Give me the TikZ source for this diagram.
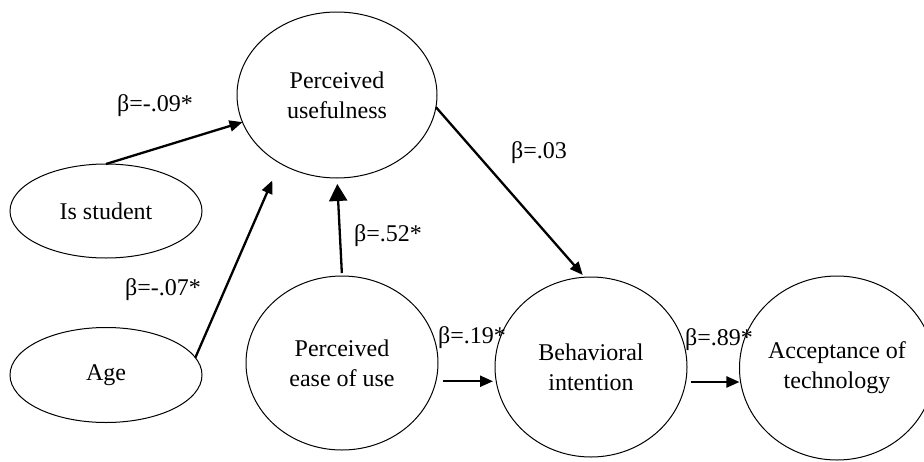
\documentclass[tikz,border=0pt]{standalone}
\usepackage{fontspec}
\setmainfont{Liberation Serif}
\usetikzlibrary{shapes.geometric,arrows.meta}
\begin{document}
\begin{tikzpicture}[x=1pt,y=-1pt,
  every node/.style={font=\fontsize{24}{30}\selectfont},
  var/.style={draw,ellipse,line width=1pt,inner sep=0pt,outer sep=0pt,align=center},
  arr/.style={line width=2.3pt,-{Triangle[length=13pt,width=11pt]}},
  bigarr/.style={line width=2.3pt,-{Triangle[length=17pt,width=18pt]}},
  lab/.style={inner sep=0pt}]
\clip (0,0) rectangle (924,461);
\useasboundingbox (0,0) rectangle (924,461);
\node[var,minimum width=200pt,minimum height=166pt] (pu) at (337,95) {Perceived\\usefulness};
\node[var,minimum width=192pt,minimum height=94pt] (stu) at (106,211) {Is student};
\node[var,minimum width=192pt,minimum height=95pt] (age) at (106,375) {Age};
\node[var,minimum width=192pt,minimum height=174pt] (peou) at (342,363) {Perceived\\ease of use};
\node[var,minimum width=192pt,minimum height=180pt] (bi) at (591,367) {Behavioral\\intention};
\node[var,minimum width=184pt,minimum height=184pt] (at) at (837,368) {Acceptance of\\technology};
% connectors
\draw[arr] (stu.90) -- (pu.196);
\draw[arr,shorten >=19pt] (age.11) -- (pu.230);
\draw[bigarr,shorten <=3pt,shorten >=6pt] (peou.north) -- (pu.south);
\draw[arr,shorten >=3pt] (pu.353) -- (bi.94);
\draw[arr,shorten <=7pt,shorten >=2pt] (peou.-11.5) -- (peou.-11.5 -| bi.west);
\draw[arr,shorten <=5pt] (bi.-9.6) -- (bi.-9.6 -| at.west);
% labels
\node[lab] (l1) at (155,106) {β=-.09*};
\node[lab] (l2) at (539,153) {β=.03};
\node[lab] (l3) at (388,236) {β=.52*};
\node[lab] (l4) at (163,290) {β=-.07*};
\node[lab] (l5) at (472,338) {β=.19*};
\node[lab] (l6) at (719,340) {β=.89*};
\end{tikzpicture}
\end{document}
